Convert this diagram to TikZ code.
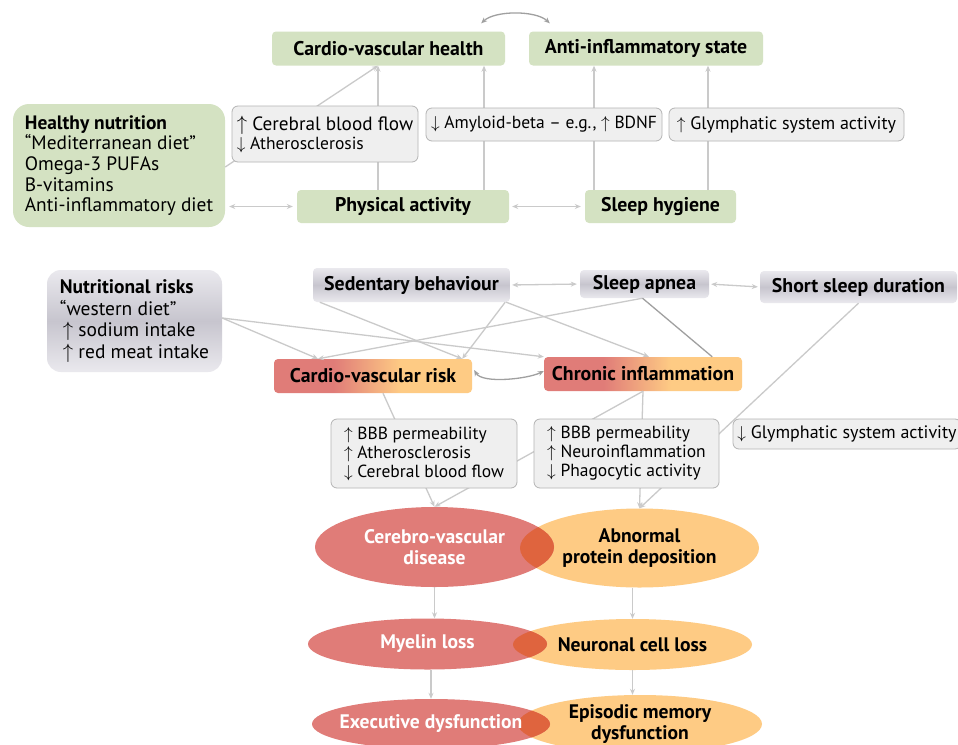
\documentclass[tikz,border=0pt]{standalone}
\usepackage{fontspec}
\setmainfont{PT Sans}
\usetikzlibrary{arrows.meta,shapes.geometric}

\definecolor{goodgreen}{RGB}{212,226,194}
\definecolor{infofill}{RGB}{239,239,239}
\definecolor{infoline}{RGB}{180,180,180}
\definecolor{linkgray}{RGB}{202,202,202}
\definecolor{curvegray}{RGB}{160,160,160}
\definecolor{risklight}{RGB}{234,233,238}
\definecolor{riskdark}{RGB}{199,197,206}
\definecolor{ellred}{RGB}{224,124,120}
\definecolor{ellorange}{RGB}{254,203,132}
\definecolor{ellmix}{RGB}{223,100,62}

\pgfdeclarehorizontalshading{redorange}{100bp}{rgb(0bp)=(0.878,0.486,0.471); rgb(40bp)=(0.878,0.486,0.471); rgb(57bp)=(0.996,0.796,0.518); rgb(100bp)=(0.996,0.796,0.518)}

\newcommand{\upa}{$\uparrow$}
\newcommand{\dna}{$\downarrow$}

\begin{document}
\begin{tikzpicture}[x=1pt,y=-1pt,>={Stealth[length=6pt,width=5pt]},
    good/.style={fill=goodgreen,rounded corners=4pt,inner sep=0pt,font=\bfseries\fontsize{19.8}{21}\selectfont},
    bad/.style={top color=risklight,bottom color=risklight,middle color=riskdark,rounded corners=4pt,inner sep=0pt,font=\bfseries\fontsize{19.8}{21}\selectfont},
    hazard/.style={shade,shading=redorange,rounded corners=4pt,inner sep=0pt,font=\bfseries\fontsize{19.8}{21}\selectfont},
    info/.style={fill=infofill,draw=infoline,line width=0.8pt,rounded corners=6pt,inner sep=0pt,align=left,font=\fontsize{17.5}{19}\selectfont},
    redell/.style={ellipse,fill=ellred,text=white,inner sep=-15pt,align=center,font=\bfseries\fontsize{19.6}{21.5}\selectfont},
    orangeell/.style={ellipse,fill=ellorange,inner sep=-15pt,align=center,font=\bfseries\fontsize{19.6}{21.5}\selectfont},
    overlapwith/.style n args={3}{path picture={\fill[ellmix] (#1.center) ellipse [x radius=#2,y radius=#3];}},
    link/.style={draw=linkgray,line width=1.3pt,->},
    both/.style={link,<->},
    curve/.style={draw=curvegray,line width=1.3pt,<->},
    dark/.style={draw=curvegray,line width=1.3pt}]
  \useasboundingbox (0,0) rectangle (958,744);
  \fill[white] (0,0) rectangle (958,744);

  % protective factors
  \node[good,minimum width=233,minimum height=34] (cvh) at (388.5,48.5) {Cardio-vascular health};
  \node[good,minimum width=234,minimum height=34] (ais) at (646,48.5) {Anti-inflammatory state};
  \node[good,rounded corners=16pt,minimum width=212,minimum height=123,align=left,font=\fontsize{19.4}{20.6}\selectfont] (hn) at (119,165.5)
    {\textbf{Healthy nutrition}\\“Mediterranean diet”\\Omega-3 PUFAs\\B-vitamins\\Anti-inflammatory diet};
  \node[good,minimum width=212,minimum height=33] (pa) at (403,206.5) {Physical activity};
  \node[good,minimum width=151,minimum height=33] (sh) at (660.5,206.5) {Sleep hygiene};

  % risk factors
  \node[bad,rounded corners=14pt,minimum width=175,minimum height=102,align=left,font=\fontsize{19.5}{21.8}\selectfont] (nr) at (134.5,321)
    {\textbf{Nutritional risks}\\“western diet”\\\hspace*{3pt}\upa\ sodium intake\\\hspace*{3pt}\upa\ red meat intake};
  \node[bad,minimum width=197,minimum height=34] (sb) at (411.5,285) {Sedentary behaviour};
  \node[bad,minimum width=129,minimum height=28] (sa) at (644.5,284) {Sleep apnea};
  \node[bad,minimum width=197,minimum height=32] (ssd) at (858.5,287) {Short sleep duration};
  \node[hazard,minimum width=198,minimum height=34] (cvr) at (373,376) {Cardio-vascular risk};
  \node[hazard,minimum width=198,minimum height=34] (ci) at (643,374) {Chronic inflammation};

  % outcomes
  \node[orangeell,minimum width=239,minimum height=79] (apd) at (639.5,548) {Abnormal\\protein deposition};
  \node[redell,minimum width=239,minimum height=80,overlapwith={apd}{119.5}{39.5}] (cvd) at (434.5,547) {Cerebro-vascular\\disease};
  \node[orangeell,minimum width=239,minimum height=51] (ncl) at (632.5,644.5) {Neuronal cell loss};
  \node[redell,minimum width=239,minimum height=51,overlapwith={ncl}{119.5}{25.5}] (myl) at (427.5,644) {Myelin loss};
  \node[orangeell,minimum width=244,minimum height=58] (emd) at (640,724) {Episodic memory\\dysfunction};
  \node[redell,minimum width=238,minimum height=50,overlapwith={emd}{122}{29}] (exe) at (431,724) {Executive dysfunction};

  % upper links
  \draw[both,shorten <=4pt,shorten >=4pt] (hn.east |- pa.west) -- (pa.west);
  \draw[both,shorten <=3pt,shorten >=4pt] (pa.east) -- (sh.west);
  \draw[link] ([yshift=-1.5]hn.east) -- ([xshift=-10.5]cvh.south);
  \draw[link] ([xshift=-25]pa.north) -- ([xshift=-10.5]cvh.south);
  \draw[link] ([xshift=81]pa.north) -- ([xshift=95.5]cvh.south);
  \draw[link] ([xshift=-66.5]sh.north) -- ([xshift=-52]ais.south);
  \draw[link] ([xshift=47.5]sh.north) -- ([xshift=62]ais.south);
  \draw[curve] ([shift={(-24,-8)}]cvh.north east) .. controls +(14,-13) and +(-14,-13) .. ([shift={(21,-8)}]ais.north west);

  % lower links
  \draw[both,shorten <=2pt,shorten >=3pt] (sb.east) -- (sa.west);
  \draw[both,shorten <=2pt,shorten >=2pt] (sa.east) -- (ssd.west);
  \draw[link] ([yshift=3]nr.east) -- ([xshift=-55]cvr.north);
  \draw[link] ([yshift=3]nr.east) -- (ci.north west);
  \draw[link] ([xshift=7]sb.south west) -- ([xshift=-10]cvr.north east);
  \draw[link] ([xshift=-5]sb.south east) -- ([xshift=-10]cvr.north east);
  \draw[link] ([xshift=-2]sa.south) -- ([xshift=-55]cvr.north);
  \draw[link] ([xshift=-4]sb.south east) -- ([xshift=6]ci.north);
  \draw[dark] ([xshift=-2]sa.south) -- ([xshift=-30]ci.north east);
  \draw[link] (ssd.south) -- (apd.north);
  \draw[curve] ([shift={(2,-6)}]cvr.east) .. controls +(8,14) and +(-16,8) .. ([shift={(0,-3)}]ci.west);
  \draw[link] ([xshift=10]cvr.south) -- (cvd.north);
  \draw[link] (ci.south) -- (cvd.north);
  \draw[link] (ci.south) -- (apd.north);
  \draw[link] (cvd.south) -- (cvd.south |- myl.north);
  \draw[link] (apd.south -| ncl) -- (ncl.north);
  \draw[link] (myl.south -| exe) -- (exe.north);
  \draw[link] (ncl.south) -- (ncl.south |- emd.north);

  % mechanism boxes
  \node[info,minimum width=186,minimum height=56] (cbf) at (325,134)
    {{\fontsize{19.2}{20}\selectfont\upa\ Cerebral blood flow}\\\dna\ Atherosclerosis};
  \node[info,minimum width=236,minimum height=33] (amy) at (544,124.5) {\dna\ Amyloid-beta -- e.g., \upa\ BDNF};
  \node[info,minimum width=235,minimum height=33,font=\fontsize{18}{19}\selectfont] (glup) at (786.5,124.5) {\upa\ Glymphatic system activity};
  \node[info,minimum width=186,minimum height=69] (bbbv) at (424,453.5)
    {\upa\ BBB permeability\\\upa\ Atherosclerosis\\\dna\ Cerebral blood flow};
  \node[info,minimum width=185,minimum height=69] (bbbi) at (626.5,453.5)
    {\upa\ BBB permeability\\\upa\ Neuroinflammation\\\dna\ Phagocytic activity};
  \node[info,minimum width=228,minimum height=30,font=\fontsize{18}{19}\selectfont] (gldn) at (847,434) {\dna\ Glymphatic system activity};
\end{tikzpicture}
\end{document}
